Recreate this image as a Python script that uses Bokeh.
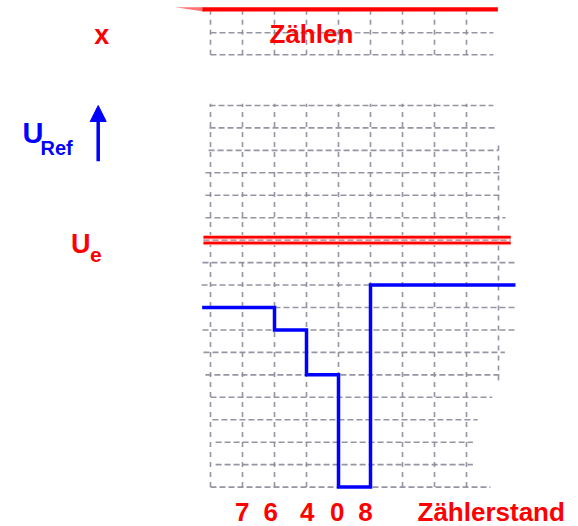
from bokeh.plotting import figure
from bokeh.models import Range1d, Label, Arrow, NormalHead, ColumnDataSource
from bokeh.core.properties import value
from bokeh.embed import file_html
from bokeh.resources import INLINE

# ---------------- data (grid units: x = counter steps, y = voltage steps) -------------
# staircase of the reference voltage (U_Ref)
step_x = [-0.26, 2, 2, 3, 3, 4, 4, 5, 5, 9.53]
step_y = [8, 8, 7, 7, 5, 5, 0, 0, 9, 9]

# input voltage U_e (drawn as a double red line)
ue_level = [11.13, 10.87]
ue_x0 = [-0.22, -0.22]
ue_x1 = [9.38, 9.38]

# counter-state tick labels
counter_labels = ["7", "6", "4", "0", "8"]
counter_pos = [0.99, 1.88, 3.02, 3.96, 4.84]

# lower grid: horizontal rows and their extents
h_rows = list(range(18))
h_x0 = [0, 0.16, 0.16, 0.06, 0, -0.16, -0.22, -0.25, -0.25, -0.28,
        -0.25, -0.22, -0.16, -0.16, -0.16, -0.06, -0.03, -0.03]
h_x1 = [8.75, 8.2, 8.2, 8.35, 8.8, 9.1, 9.2, 9.53, 9.53, 9.53,
        9.53, 9.38, 9.22, 9.12, 9.06, 9.0, 8.97, 8.84]
# lower grid: vertical columns and their extents
v_cols = list(range(10))
v_y0 = [0, 0, 0, 0, 0, 0, 0, 0, 0, 4.75]
v_y1 = [17.08] * 9 + [15.36]

# upper small grid ("Zählen" strip)
top_rows = [19.26, 20.24]
top_x0 = [0, 0]
top_x1 = [8.84, 8.84]
top_cols = list(range(9))
top_y0 = [19.26] * 9
top_y1 = [21.18] * 9
# counting signal (top red line)
count_x = [-0.25, 8.98]
count_y = [21.28, 21.28]

# ---------------- helpers: pixel position in picture -> grid units for annotations ----
def X(px):
    return (px - 210.0) / 32.0

def Y(py):
    return (486.6 - py) / 22.45

RED = "#ff0000"
BLUE = "#0000ff"
GRID = "#8a8a9a"
FONT = value("Liberation Sans")

p = figure(width=578, height=526, output_backend="svg", toolbar_location=None,
           x_range=Range1d(X(0), X(578)), y_range=Range1d(Y(526), Y(0)),
           x_axis_type=None, y_axis_type=None, min_border=0)
p.xgrid.visible = False
p.ygrid.visible = False
p.outline_line_color = None
p.background_fill_color = "white"

# grids
p.segment(x0=h_x0, y0=h_rows, x1=h_x1, y1=h_rows, line_color=GRID,
          line_width=1.6, line_dash="6 3", line_alpha=0.9)
p.segment(x0=v_cols, y0=v_y0, x1=v_cols, y1=v_y1, line_color=GRID,
          line_width=1.6, line_dash="5 5", line_alpha=0.9)
p.segment(x0=top_x0, y0=top_rows, x1=top_x1, y1=top_rows, line_color=GRID,
          line_width=1.6, line_dash="6 3", line_alpha=0.9)
p.segment(x0=top_cols, y0=top_y0, x1=top_cols, y1=top_y1, line_color=GRID,
          line_width=1.6, line_dash="5 5", line_alpha=0.9)

# top counting line with tapered start
p.patch([X(175), X(203), X(203)], [Y(6.7), Y(6.7), Y(11)], fill_color=RED,
        fill_alpha=0.55, line_color=None)
p.line(count_x, count_y, line_color=RED, line_width=4.2)

# U_e double line
p.segment(x0=ue_x0, y0=ue_level, x1=ue_x1, y1=ue_level, line_color="#ffb8b8",
          line_width=4.5)
p.segment(x0=ue_x0, y0=ue_level, x1=ue_x1, y1=ue_level, line_color=RED,
          line_width=2.5)

# staircase
p.line(step_x, step_y, line_color=BLUE, line_width=3.5, line_join="miter")

# counter labels
src = ColumnDataSource(dict(x=counter_pos, y=[Y(511.5)] * len(counter_pos),
                            t=counter_labels))
p.text(x="x", y="y", text="t", source=src, text_color=RED, text_font=FONT,
       text_font_style="bold", text_font_size="26px", text_align="center",
       text_baseline="middle")


def lab(txt, px, py, size, color, align="left"):
    p.add_layout(Label(x=X(px), y=Y(py), text=txt, text_color=color,
                       text_font="Liberation Sans", text_font_style="bold",
                       text_font_size=size, text_align=align,
                       text_baseline="middle"))

lab("x", 101.2, 34.6, "27px", RED, "center")
lab("Zählen", 269, 33, "26px", RED)
lab("U", 22, 132.6, "29px", BLUE)
lab("Ref", 40, 147.4, "20px", BLUE)
lab("U", 70.5, 243.9, "27px", RED)
lab("e", 89.5, 254.2, "21px", RED)
lab("Zählerstand", 417, 511.5, "26px", RED)

p.add_layout(Arrow(end=NormalHead(size=16, fill_color=BLUE, line_color=BLUE),
                   x_start=X(97.7), y_start=Y(160.7), x_end=X(97.7), y_end=Y(105),
                   line_color=BLUE, line_width=3.5))

open("out.html", "w").write(file_html(p, INLINE))
